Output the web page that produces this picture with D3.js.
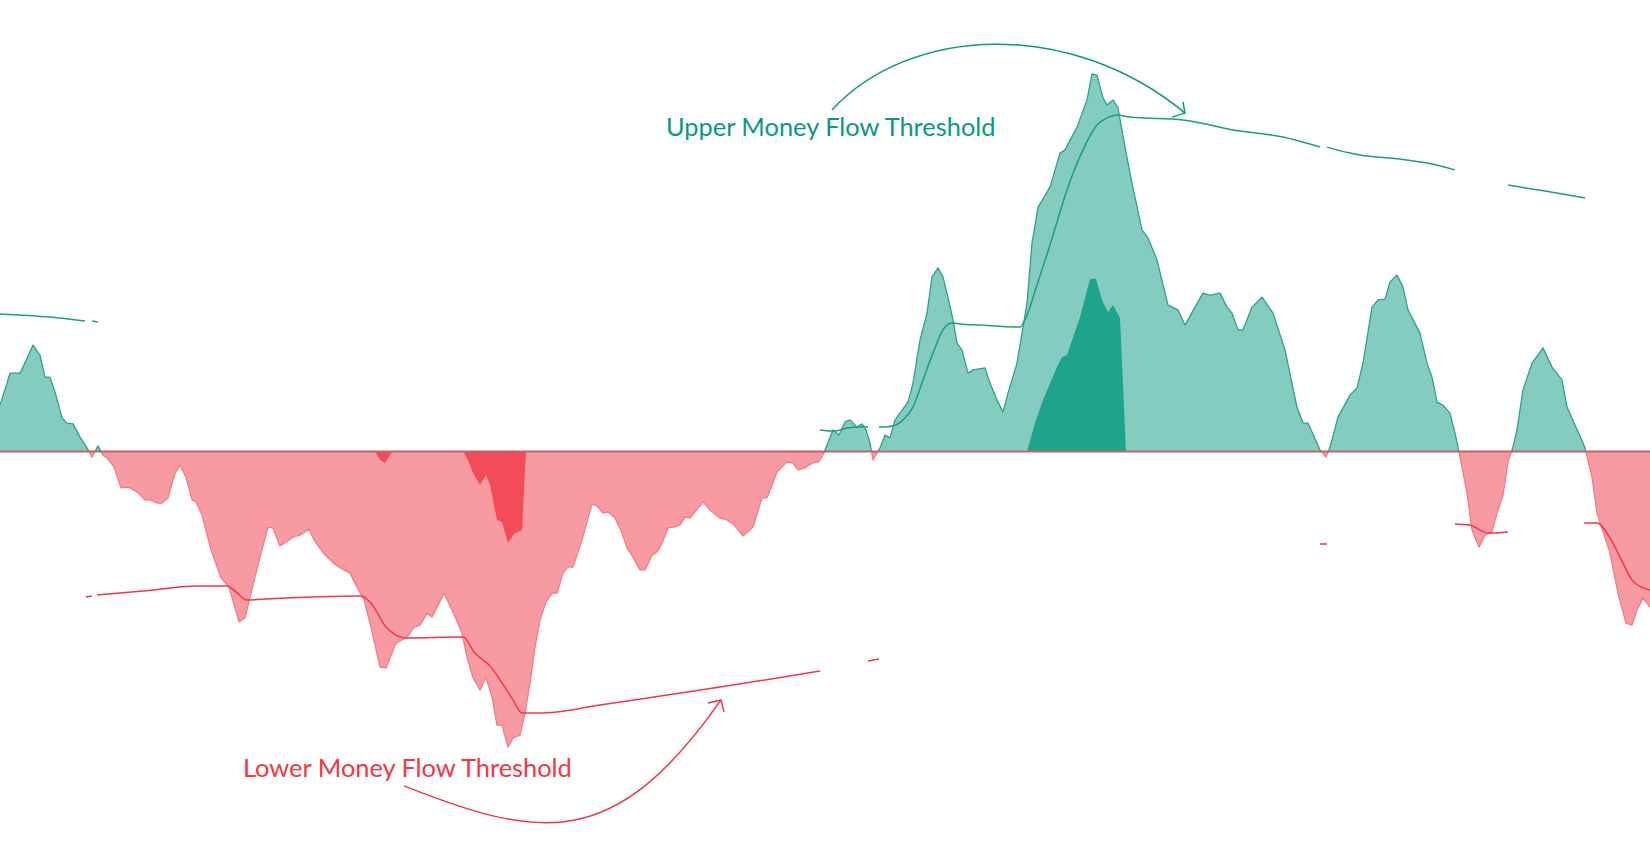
<!DOCTYPE html>
<html>
<head>
<meta charset="utf-8">
<script src="https://cdn.jsdelivr.net/npm/d3@7"></script>
<style>
  html, body { margin: 0; padding: 0; background: #ffffff; }
  svg { display: block; }
</style>
</head>
<body>
<svg id="chart" width="1650" height="852"></svg>
<script>
// ---- DATA (bar index, money-flow value) ----
const moneyFlow = [
  [0,11.6],[1.4,17.1],[2,19.6],[4,19.6],[4.6,21.1],[6.6,26.6],[8,24.1],[9,18.6],[10,18.6],[11,14.9],
  [12.4,8.4],[13.4,7.1],[14.6,6.9],[16,3.6],[17.4,0.9],[18.4,-1.4],[19.6,1.4],[20.6,-0.9],[21.4,-1.6],[22.8,-3.9],
  [24.2,-9.1],[25.8,-8.9],[27.4,-10.1],[29,-12.1],[30,-12.1],[31.4,-12.9],[32.4,-12.9],[33.6,-11.6],[35,-5.4],[36,-3.4],
  [37.2,-6.4],[38.4,-12.1],[39.2,-12.6],[40.4,-15.9],[42.2,-24.6],[44.2,-31.6],[45.8,-33.9],[47.8,-42.6],[49,-41.6],[50,-36.4],
  [52.2,-25.4],[53.6,-18.9],[54.6,-19.1],[56,-23.6],[57.2,-22.6],[58.6,-21.4],[60,-20.9],[61.8,-19.4],[62.8,-22.1],[65,-25.9],
  [67.2,-28.4],[69.2,-29.9],[70,-30.4],[71.4,-33.9],[72.8,-37.1],[74.2,-43.9],[76,-53.9],[77.2,-54.1],[79.2,-47.9],[81.4,-46.4],
  [82.8,-43.9],[84,-43.4],[85.4,-40.4],[86.4,-41.4],[88.8,-35.4],[90.6,-40.1],[92.4,-45.4],[93.4,-51.4],[94.6,-56.6],[96,-59.6],
  [97.2,-56.4],[98.4,-61.4],[99.4,-68.4],[100.4,-68.4],[101.6,-73.9],[102.6,-71.6],[104,-70.9],[105,-65.4],[106,-57.9],[107,-48.9],
  [108,-42.1],[109.2,-37.6],[110.4,-35.4],[111.4,-35.4],[112.6,-30.4],[113.6,-28.9],[114.6,-28.9],[116.4,-22.1],[118.4,-13.1],[119.4,-13.6],
  [120.6,-15.4],[121.6,-15.1],[123,-16.6],[124.4,-20.4],[125.4,-24.1],[126.6,-26.4],[128,-29.6],[129,-29.6],[130.4,-25.9],[131.4,-25.1],
  [132.4,-22.9],[133.6,-19.1],[134.6,-18.9],[136,-18.4],[137,-16.4],[138,-16.6],[139,-15.1],[140.6,-12.6],[142,-14.6],[144,-16.6],
  [145.4,-17.1],[146.6,-18.1],[148.6,-21.1],[150.6,-18.9],[152.4,-11.6],[153.4,-11.6],[155.4,-5.1],[157.4,-2.6],[158.6,-2.9],[159.6,-4.6],
  [161,-4.1],[162.4,-2.9],[163.6,-2.6],[164.4,-1.4],[165,0.4],[166.6,5.4],[167.8,4.1],[169,7.4],[170,7.9],[171.4,6.1],
  [172.4,6.9],[173.2,5.4],[174,2.1],[174.6,-2.1],[176,0.9],[177,4.1],[178,3.4],[179,7.9],[180,9.6],[181.6,12.4],
  [182.6,17.1],[184,27.9],[185.4,34.6],[186.4,43.6],[187.6,45.9],[188.6,43.6],[189.6,38.6],[190.6,32.9],[191.4,27.1],[192.4,25.4],
  [193.6,19.6],[194.6,20.4],[197,20.9],[198,17.1],[199.4,12.9],[200.6,9.9],[201.6,14.6],[203.4,22.1],[205.4,37.1],[206.4,52.1],
  [207.6,61.1],[210,66.1],[212,74.6],[213,75.4],[215.4,81.1],[217.4,87.9],[218.4,94.4],[219.4,94.1],[220.6,88.4],[221.4,86.6],
  [222.6,87.9],[223.6,85.9],[225,76.1],[226.4,67.1],[228.4,55.4],[229.6,53.4],[231.4,47.9],[233.6,36.6],[235.6,35.4],[237,31.6],
  [239,36.1],[240.6,39.6],[242,39.1],[244,39.6],[245.4,36.1],[246.4,34.6],[247.6,30.4],[248.6,30.4],[250.4,36.1],[252.4,38.6],
  [254.6,34.6],[257,25.4],[259.4,11.1],[260.6,7.1],[261.6,7.1],[264,0.4],[265.2,-1.4],[266,1.1],[267.6,8.6],[270,14.1],
  [271.4,15.9],[272.6,22.1],[274.4,36.1],[275.6,37.9],[277,38.1],[278,42.4],[279.4,44.1],[280.6,41.1],[281.6,35.4],[284,29.6],
  [285.4,22.1],[286.4,18.6],[287.4,12.4],[288.6,11.6],[290,9.6],[291,4.6],[292,-1.4],[293.4,-10.4],[294.4,-19.6],[295.8,-23.9],
  [297,-20.9],[298.4,-20.1],[299.4,-15.4],[300.6,-10.9],[301.6,-2.6],[302.6,1.1],[303.4,5.4],[304.6,15.4],[306.4,22.1],[308.6,25.9],
  [310.4,21.1],[312.4,17.9],[313.4,11.1],[316.6,2.1],[317,0.9],[318.4,-6.4],[319.4,-15.4],[322,-25.4],[323.6,-35.4],[325.2,-42.9],
  [326.4,-43.4],[327.4,-39.6],[328.6,-36.6],[330,-38.9]
];

// excess money flow beyond the threshold (darker fill); null = gap
const excessFlow = [
  [75,0],[76,-2.1],[77,-2.9],[77.6,-1.6],[78.4,0], null,
  [92.6,0],[93.6,-2.1],[94.6,-5.4],[96,-8.4],[97.2,-5.9],[98,-8.4],[99.4,-17.1],[100.4,-17.6],[101.6,-22.9],[103,-20.4],[104.4,-19.6],[105.2,0], null,
  [205.4,0],[207,7.1],[208.6,12.9],[211.4,21.1],[212.4,23.6],[213.4,24.1],[216,33.6],[218,43.1],[219.2,43.1],[220.4,37.9],[221.6,34.9],[222.6,36.6],[224,33.4],[225.2,0]
];

// upper money flow threshold; null = gap
const upperThreshold = [
  [0,34.4],[10,33.6],[17,32.6], null,
  [18.4,32.6],[19.6,32.4], null,
  [164,5.4],[167,5.1],[169.4,5.9],[172,6.1],[173.6,6.1], null,
  [175.8,6.1],[178.6,6.4],[180.6,7.9],[182.6,11.1],[184.6,17.9],[186.6,24.6],[188.6,30.4],[190.4,32.1],[192,31.9],[196,31.6],
  [204,31.1],[205,32.9],[207.4,41.6],[210,51.6],[213.4,65.4],[216.6,75.4],[219.4,81.6],[221.4,83.4],[223.4,84.1],[226,83.6],
  [236.6,82.9],[246.6,80.4],[256.6,78.6],[264,76.1], null,
  [265.4,76.1],[270,74.6],[272,74.1],[280,73.1],[285.4,72.1],[291,70.4], null,
  [301.6,66.6],[309,65.1],[317,63.4]
];

// lower money flow threshold; null = gap
const lowerThreshold = [
  [17.2,-36.4],[18.4,-36.1], null,
  [19.4,-35.9],[28.6,-34.9],[39.2,-33.6],[45.4,-33.6],[47.2,-35.1],[49.2,-37.1],[57.2,-36.6],[72.2,-36.1],[74.2,-37.9],[77.2,-43.9],
  [79.2,-45.9],[81.4,-46.6],[92.6,-46.4],[95,-50.4],[98.2,-53.9],[100,-57.1],[102.6,-62.1],[104.4,-65.4],[108,-65.4],[120,-63.4],
  [133.4,-60.9],[146.6,-58.4],[164,-54.9], null,
  [173.6,-52.4],[175.8,-51.9], null,
  [264,-23.1],[265.4,-23.1], null,
  [291,-18.1],[294,-18.4],[296,-19.6],[297.6,-20.4],[301.6,-20.1], null,
  [316.8,-17.9],[319.4,-17.9],[322,-21.6],[324,-26.4],[326.4,-32.1],[328.6,-34.1],[330,-34.6]
];

// annotation labels and curved arrows (in bar / value units)
const labels = [
  { text: "Upper Money Flow Threshold", bar: 133.2, value: 78.9, color: "#089981" },
  { text: "Lower Money Flow Threshold", bar: 48.6, value: -81.4, color: "#f23645" }
];
const arrows = [
  { color: "#089981", pts: [[166.4,85.4],[182,106.5],[214,108.4],[237,84.6]], head: [[236.6,87.4],[237,84.6],[234.4,83.6]] },
  { color: "#f23645", pts: [[80.8,-83.6],[108,-97.1],[123,-100.1],[144.2,-62.1]], head: [[141.6,-62.9],[144.2,-62.1],[144.8,-65.1]] }
];

// ---- CHART ----
const W = 1650, H = 852;
const svg = d3.select("#chart");
const x = d3.scaleLinear().domain([0, 330]).range([0, W]);
const y = d3.scaleLinear().domain([-100, 100]).range([851.5, 51.5]);
const y0 = y(0);

const defs = svg.append("defs");
defs.append("clipPath").attr("id", "clipUp").append("rect")
  .attr("x", 0).attr("y", 0).attr("width", W).attr("height", y0);
defs.append("clipPath").attr("id", "clipDown").append("rect")
  .attr("x", 0).attr("y", y0).attr("width", W).attr("height", H - y0);

const area = d3.area().defined(d => d).x(d => x(d[0])).y0(y0).y1(d => y(d[1]));
const line = d3.line().defined(d => d).x(d => x(d[0])).y(d => y(d[1]));

const parts = [
  { clip: "clipUp", fill: "#84ccc0", stroke: "#2fa08f", dark: "#1fa38a" },
  { clip: "clipDown", fill: "#f89aa2", stroke: "#f47a84", dark: "#f44b59" }
];

parts.forEach(p => {
  const g = svg.append("g").attr("clip-path", `url(#${p.clip})`);
  g.append("path").datum(moneyFlow).attr("d", area).attr("fill", p.fill);
  g.append("path").datum(excessFlow).attr("d", area).attr("fill", p.dark);
  g.append("path").datum(moneyFlow).attr("d", line)
    .attr("fill", "none").attr("stroke", p.stroke).attr("stroke-width", 1.3)
    .attr("stroke-linejoin", "round");
});

// zero line
svg.append("line").attr("x1", 0).attr("x2", W).attr("y1", y0).attr("y2", y0)
  .attr("stroke", "#bd6667").attr("stroke-width", 2);

// thresholds
const thrLine = d3.line().defined(d => d).x(d => x(d[0])).y(d => y(d[1])).curve(d3.curveMonotoneX);
svg.append("path").datum(upperThreshold).attr("d", thrLine)
  .attr("fill", "none").attr("stroke", "#1a9c86").attr("stroke-width", 1.5);
svg.append("path").datum(lowerThreshold).attr("d", thrLine)
  .attr("fill", "none").attr("stroke", "#f23645").attr("stroke-width", 1.5);

// annotations
labels.forEach(l => {
  svg.append("text").attr("x", x(l.bar)).attr("y", y(l.value))
    .attr("fill", l.color)
    .attr("font-family", "Lato, 'Open Sans', sans-serif")
    .attr("font-size", 25.4)
    .text(l.text);
});
arrows.forEach(a => {
  const p = a.pts.map(d => [x(d[0]), y(d[1])]);
  const path = d3.path();
  path.moveTo(p[0][0], p[0][1]);
  path.bezierCurveTo(p[1][0], p[1][1], p[2][0], p[2][1], p[3][0], p[3][1]);
  svg.append("path").attr("d", path.toString())
    .attr("fill", "none").attr("stroke", a.color).attr("stroke-width", 1.5);
  const h = d3.line().x(d => x(d[0])).y(d => y(d[1]));
  svg.append("path").attr("d", h(a.head))
    .attr("fill", "none").attr("stroke", a.color).attr("stroke-width", 1.5)
    .attr("stroke-linejoin", "round");
});
</script>
</body>
</html>
